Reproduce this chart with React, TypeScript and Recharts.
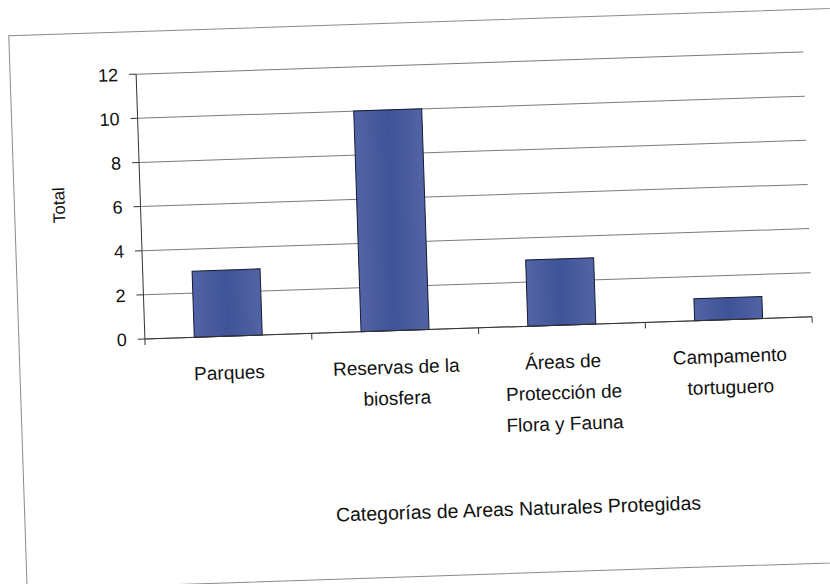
import { BarChart, Bar, XAxis, YAxis, CartesianGrid, Label } from 'recharts';

const categories = [
  'Parques',
  'Reservas de la\nbiosfera',
  'Áreas de\nProtección de\nFlora y Fauna',
  'Campamento\ntortuguero',
];
const totals = [3, 10, 3, 1];
const yTicks = [0, 2, 4, 6, 8, 10, 12];

const chartData = categories.map((c, i) => ({ categoria: c, total: totals[i] }));

const FONT = '"Liberation Sans", Arial, sans-serif';

function CategoryTick(props: any) {
  const { x, y, payload, index, visibleTicksCount } = props;
  const lines = String(payload.value).split('\n');
  const half = payload.offset ?? 83.4;
  const last = index === (visibleTicksCount ?? categories.length) - 1;
  return (
    <g>
      <line x1={x - half} y1={y} x2={x - half} y2={y + 6} stroke="#333" />
      {last && <line x1={x + half} y1={y} x2={x + half} y2={y + 6} stroke="#333" />}
      <text x={x} y={y + 43} textAnchor="middle" fill="#111" fontSize={19} fontFamily={FONT}>
        {lines.map((l, i) => (
          <tspan key={i} x={x} dy={i === 0 ? 0 : 31}>{l}</tspan>
        ))}
      </text>
    </g>
  );
}

export default function App() {
  return (
    <div style={{ position: 'absolute', left: 0, top: 0, width: 830, height: 584, overflow: 'hidden', background: '#fff' }}>
      <div
        style={{
          position: 'absolute', left: 0, top: 0, width: 830, height: 584,
          transform: 'rotate(-1.9deg)', transformOrigin: '415px 292px',
        }}
      >
        {/* chart frame, right edge runs off the page */}
        <div style={{ position: 'absolute', left: 17, top: 22, width: 880, height: 553, border: '1px solid #8a8a8a' }} />
        <div style={{ position: 'absolute', left: 0, top: 0 }}>
          <BarChart
            width={830}
            height={584}
            data={chartData}
            margin={{ top: 65, right: 19, bottom: 0, left: 0 }}
            barCategoryGap="29.6%"
          >
            <defs>
              <linearGradient id="barFill" x1="0" y1="0" x2="1" y2="0">
                <stop offset="0%" stopColor="#5264a5" />
                <stop offset="50%" stopColor="#3f5397" />
                <stop offset="100%" stopColor="#5264a5" />
              </linearGradient>
            </defs>
            <CartesianGrid vertical={false} stroke="#7a7a7a" yAxisId="left" />
            <XAxis
              dataKey="categoria"
              height={254}
              interval={0}
              tickLine={false}
              tickSize={0}
              tickMargin={0}
              axisLine={{ stroke: '#333' }}
              tick={<CategoryTick />}
            >
              <Label
                value="Categorías de Areas Naturales Protegidas"
                position="insideTop"
                offset={175}
                dx={34}
                fill="#111"
                fontSize={19.5}
                fontFamily={FONT}
              />
            </XAxis>
            <YAxis
              yAxisId="left"
              width={143.5}
              domain={[0, 12]}
              ticks={yTicks}
              interval={0}
              tickSize={7}
              tickMargin={11}
              axisLine={{ stroke: '#333' }}
              tickLine={{ stroke: '#333' }}
              tick={{ fill: '#111', fontSize: 18, fontFamily: FONT }}
            >
              <Label
                value="Total"
                angle={-90}
                position="center"
                dx={-10}
                dy={-4}
                fill="#111"
                fontSize={17}
                fontFamily={FONT}
              />
            </YAxis>
            <YAxis
              yAxisId="right"
              orientation="right"
              width={0}
              domain={[0, 12]}
              tick={false}
              tickLine={false}
              axisLine={{ stroke: '#7a7a7a' }}
            />
            <Bar
              yAxisId="left"
              dataKey="total"
              fill="url(#barFill)"
              stroke="#151a33"
              strokeWidth={1}
              isAnimationActive={false}
            />
          </BarChart>
        </div>
      </div>
    </div>
  );
}
